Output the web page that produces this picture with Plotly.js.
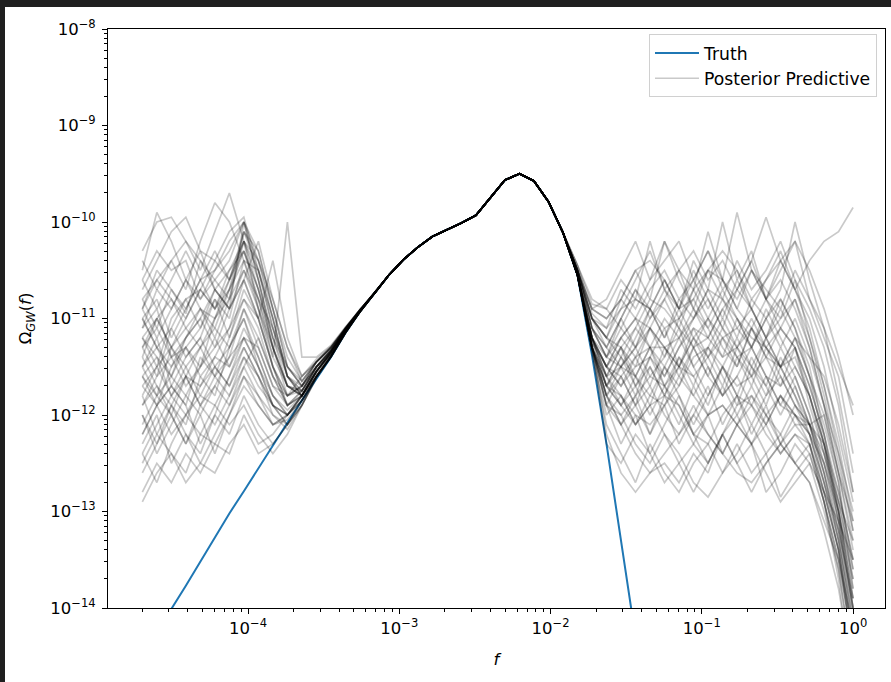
<!DOCTYPE html>
<html><head><meta charset="utf-8">
<script src="https://cdn.plot.ly/plotly-3.0.1.min.js"></script>
<style>
html,body{margin:0;padding:0;background:#1f1f1f;width:891px;height:682px;overflow:hidden}
#chart{position:absolute;left:5px;top:7px;width:886px;height:675px;background:#fff}
</style>
</head><body><div id="chart"></div>
<script>
// Frequency grid (log-spaced, 2e-5 .. 1)
const freq = [2.000e-5,2.494e-5,3.110e-5,3.878e-5,4.836e-5,6.031e-5,7.521e-5,9.378e-5,1.170e-4,1.459e-4,
  1.820e-4,2.269e-4,2.830e-4,3.529e-4,4.400e-4,5.488e-4,6.843e-4,8.534e-4,1.065e-3,1.328e-3,
  1.656e-3,2.065e-3,2.575e-3,3.211e-3,4.004e-3,4.993e-3,6.227e-3,7.765e-3,9.686e-3,1.208e-2,
  1.506e-2,1.878e-2,2.342e-2,2.921e-2,3.643e-2,4.542e-2,5.665e-2,7.064e-2,8.809e-2,1.099e-1,
  1.371e-1,1.709e-1,2.131e-1,2.658e-1,3.314e-1,4.133e-1,5.154e-1,6.427e-1,8.015e-1,1.000];

// Truth, log10(Omega) on the first 36 grid points
const truthLog = [-14.50,-14.25,-14.01,-13.77,-13.52,-13.27,-13.02,-12.79,-12.55,-12.31,
  -12.08,-11.85,-11.62,-11.40,-11.15,-10.93,-10.74,-10.55,-10.39,-10.26,
  -10.15,-10.08,-10.01,-9.93,-9.75,-9.565,-9.50,-9.575,-9.79,-10.11,
  -10.55,-11.38,-12.30,-13.30,-14.30,-15.30];

// Posterior predictive: shared middle section (grid points 16..29), log10
const ppMidLog = [-10.74,-10.55,-10.39,-10.26,-10.15,-10.08,-10.01,-9.93,-9.75,-9.565,
  -9.50,-9.575,-9.79,-10.11];

// Posterior predictive: low-frequency part (grid points 0..15), log10
const ppLeftLog = [
 [-11.0,-10.8,-11.2,-10.9,-10.6,-10.5,-10.3,-10.0,-10.6,-11.2,-11.7,-11.8,-11.55,-11.35,-11.12,-10.92],
 [-11.5,-11.3,-11.6,-11.2,-11.0,-11.3,-10.9,-10.6,-11.0,-11.5,-11.9,-11.75,-11.5,-11.38,-11.14,-10.93],
 [-10.6,-10.3,-10.5,-10.4,-10.8,-10.5,-10.2,-10.0,-10.4,-10.9,-11.5,-11.7,-11.45,-11.30,-11.10,-10.91],
 [-12.1,-11.8,-12.0,-11.6,-11.7,-11.4,-11.5,-11.1,-11.4,-11.8,-12.0,-11.85,-11.6,-11.40,-11.15,-10.93],
 [-10.3,-10.0,-9.95,-10.2,-10.5,-10.1,-9.7,-10.2,-10.7,-11.3,-11.8,-11.7,-11.5,-11.33,-11.11,-10.92],
 [-12.9,-12.6,-12.4,-12.6,-12.2,-12.3,-12.0,-11.7,-11.9,-12.1,-12.0,-11.8,-11.6,-11.38,-11.14,-10.93],
 [-11.3,-11.6,-11.1,-11.4,-11.2,-10.8,-11.0,-10.4,-10.5,-11.0,-11.6,-11.8,-11.55,-11.35,-11.12,-10.92],
 [-10.8,-11.1,-10.7,-10.95,-10.4,-10.6,-10.8,-10.1,-10.3,-10.9,-11.4,-11.65,-11.45,-11.30,-11.10,-10.91],
 [-11.8,-12.2,-11.9,-12.1,-11.6,-11.8,-11.3,-11.0,-11.5,-11.9,-12.1,-11.9,-11.6,-11.40,-11.15,-10.93],
 [-12.3,-12.0,-12.5,-12.2,-12.4,-12.0,-12.2,-11.8,-12.1,-12.3,-12.1,-11.85,-11.6,-11.38,-11.14,-10.93],
 [-11.1,-10.7,-10.9,-10.6,-10.9,-11.0,-10.6,-10.3,-10.8,-11.4,-11.7,-11.75,-11.5,-11.33,-11.11,-10.92],
 [-11.6,-11.4,-11.8,-11.5,-11.3,-11.6,-11.4,-10.9,-11.2,-11.6,-11.8,-11.7,-11.5,-11.35,-11.12,-10.92],
 [-10.5,-9.9,-10.2,-10.6,-10.3,-10.7,-10.9,-10.5,-10.8,-11.1,-11.5,-11.7,-11.45,-11.30,-11.10,-10.91],
 [-12.6,-12.3,-12.0,-12.3,-11.9,-12.1,-11.8,-11.4,-11.6,-12.0,-12.1,-11.85,-11.6,-11.40,-11.15,-10.93],
 [-11.4,-11.0,-11.3,-11.0,-10.7,-10.9,-10.5,-10.2,-10.9,-11.5,-11.9,-11.8,-11.55,-11.35,-11.12,-10.92],
 [-11.9,-11.6,-11.4,-11.7,-11.5,-11.2,-11.5,-11.2,-11.3,-11.7,-11.9,-11.75,-11.55,-11.37,-11.13,-10.93],
 [-10.9,-10.6,-10.8,-11.0,-10.7,-10.4,-10.1,-9.95,-10.5,-11.0,-11.6,-11.8,-11.5,-11.33,-11.11,-10.92],
 [-12.0,-12.4,-12.1,-11.8,-12.0,-11.7,-11.9,-11.5,-11.8,-12.0,-12.15,-11.9,-11.6,-11.40,-11.15,-10.93],
 [-11.2,-11.5,-11.0,-10.8,-11.1,-10.7,-10.9,-10.6,-10.2,-10.8,-11.3,-11.65,-11.45,-11.30,-11.10,-10.91],
 [-10.7,-10.4,-10.1,-9.95,-10.3,-10.4,-10.6,-10.2,-10.6,-11.2,-11.6,-11.75,-11.5,-11.34,-11.12,-10.92],
 [-11.7,-11.9,-11.5,-11.3,-11.6,-11.4,-11.1,-10.8,-11.1,-11.6,-11.9,-11.8,-11.55,-11.36,-11.13,-10.93],
 [-12.4,-12.7,-12.3,-12.0,-12.2,-11.9,-12.1,-11.9,-12.2,-12.4,-12.2,-11.9,-11.62,-11.40,-11.15,-10.93],
 [-11.0,-11.3,-11.5,-11.2,-10.9,-11.1,-10.7,-10.3,-10.7,-11.3,-11.7,-11.8,-11.55,-11.35,-11.12,-10.92],
 [-10.4,-10.7,-10.4,-10.7,-10.2,-9.8,-10.0,-10.4,-10.9,-11.4,-10.0,-11.4,-11.4,-11.28,-11.09,-10.91],
 [-11.5,-11.2,-11.7,-11.9,-11.4,-11.6,-11.2,-10.7,-11.0,-11.5,-11.8,-11.7,-11.5,-11.34,-11.12,-10.92],
 [-12.2,-11.9,-11.7,-11.9,-12.3,-12.0,-11.6,-11.3,-11.6,-11.9,-12.0,-11.85,-11.6,-11.39,-11.14,-10.93],
 [-10.9,-11.2,-10.9,-10.6,-10.8,-10.6,-10.4,-10.0,-10.3,-10.9,-11.5,-11.7,-11.45,-11.31,-11.10,-10.91],
 [-11.3,-11.0,-11.3,-11.5,-11.8,-11.5,-11.7,-11.4,-11.7,-11.9,-12.0,-11.8,-11.58,-11.38,-11.14,-10.93],
 [-12.8,-12.5,-12.7,-12.4,-12.6,-12.3,-12.4,-12.0,-12.3,-12.2,-12.0,-11.8,-11.6,-11.40,-11.15,-10.93],
 [-11.6,-11.8,-11.3,-11.1,-10.9,-11.2,-10.8,-10.5,-10.9,-11.3,-11.7,-11.8,-11.55,-11.35,-11.12,-10.92],
 [-11.1,-10.9,-11.4,-11.3,-11.1,-10.8,-11.2,-10.8,-11.0,-10.4,-11.2,-11.6,-11.42,-11.29,-11.09,-10.91],
 [-11.9,-11.7,-12.0,-12.3,-12.0,-12.4,-12.0,-11.6,-11.9,-12.1,-12.05,-11.85,-11.6,-11.39,-11.14,-10.93],
 [-10.6,-10.9,-10.6,-10.3,-10.6,-10.9,-10.7,-10.1,-10.4,-11.0,-11.6,-11.75,-11.5,-11.33,-11.11,-10.92],
 [-11.4,-11.7,-11.9,-11.6,-11.3,-11.1,-11.3,-11.0,-11.4,-11.8,-12.0,-11.8,-11.55,-11.36,-11.13,-10.93],
 [-12.5,-12.2,-12.4,-12.7,-12.5,-12.6,-12.3,-12.1,-12.4,-12.3,-12.1,-11.9,-11.62,-11.40,-11.15,-10.93],
 [-11.2,-11.4,-11.6,-11.3,-11.5,-11.0,-10.8,-10.2,-10.5,-11.1,-11.6,-11.8,-11.55,-11.35,-11.12,-10.92],
 [-11.6,-11.9,-11.7,-11.4,-11.2,-11.5,-11.3,-10.9,-11.3,-11.7,-11.8,-11.6,-11.45,-11.32,-11.10,-10.92],
 [-12.2,-11.9,-12.2,-12.0,-11.8,-11.9,-11.6,-11.2,-11.5,-11.8,-11.95,-11.8,-11.55,-11.36,-11.13,-10.93],
 [-10.9,-10.5,-10.7,-10.9,-10.6,-10.3,-10.6,-10.1,-10.5,-11.1,-11.6,-11.7,-11.5,-11.33,-11.11,-10.92],
 [-11.8,-11.5,-11.3,-11.6,-11.9,-11.7,-11.4,-11.2,-11.5,-11.9,-12.0,-11.85,-11.6,-11.39,-11.15,-10.93],
 [-11.3,-11.1,-11.4,-11.2,-11.0,-10.7,-10.9,-10.0,-10.6,-11.3,-11.7,-11.8,-11.55,-11.35,-11.12,-10.92],
 [-12.0,-12.3,-11.9,-12.2,-12.5,-12.2,-11.9,-11.6,-11.8,-12.1,-12.0,-11.8,-11.6,-11.40,-11.15,-10.93],
 [-10.8,-10.6,-10.4,-10.2,-10.4,-10.7,-10.5,-10.3,-10.7,-11.2,-11.5,-11.65,-11.45,-11.30,-11.10,-10.91],
 [-11.5,-11.8,-11.6,-11.8,-11.5,-11.3,-11.1,-10.6,-11.0,-11.5,-11.8,-11.75,-11.52,-11.34,-11.12,-10.92],
 [-12.4,-12.1,-11.8,-11.6,-11.9,-11.6,-11.8,-11.5,-11.2,-11.6,-11.9,-11.8,-11.55,-11.37,-11.13,-10.93],
 [-11.0,-11.3,-11.1,-10.8,-10.7,-10.9,-10.6,-10.2,-10.4,-10.8,-11.3,-11.6,-11.45,-11.30,-11.10,-10.91],
 [-11.7,-11.5,-11.8,-12.0,-11.7,-11.5,-11.7,-11.3,-11.6,-11.9,-12.1,-11.9,-11.6,-11.40,-11.15,-10.93],
 [-11.2,-11.0,-10.8,-11.1,-11.3,-11.0,-10.7,-10.4,-10.8,-11.3,-11.7,-11.75,-11.5,-11.33,-11.11,-10.92]
];

// Posterior predictive: high-frequency part (grid points 30..49), log10
const ppRightLog = [
 [-10.55,-11.2,-11.6,-11.3,-11.5,-11.1,-11.4,-11.0,-11.3,-11.6,-11.2,-11.5,-11.1,-11.4,-11.7,-11.3,-11.9,-12.4,-12.9,-13.6],
 [-10.50,-11.0,-11.3,-11.0,-10.7,-10.9,-10.6,-10.9,-10.5,-10.8,-11.1,-10.7,-10.4,-10.8,-11.0,-10.6,-11.2,-11.8,-12.5,-13.2],
 [-10.55,-11.3,-11.9,-12.1,-11.8,-12.2,-11.9,-12.3,-12.0,-11.7,-12.1,-11.8,-12.2,-11.9,-12.3,-12.0,-12.2,-12.8,-13.4,-14.3],
 [-10.50,-10.9,-10.8,-10.5,-10.2,-10.6,-10.4,-10.2,-10.6,-10.3,-10.7,-10.5,-10.9,-10.6,-10.3,-10.7,-10.4,-10.2,-10.1,-9.85],
 [-10.55,-11.3,-11.8,-11.6,-11.9,-11.5,-11.8,-11.4,-11.7,-11.3,-11.6,-11.9,-11.5,-11.8,-11.4,-11.7,-12.1,-12.6,-13.3,-14.1],
 [-10.55,-11.25,-12.2,-12.6,-12.8,-12.6,-12.5,-12.7,-12.4,-12.6,-12.2,-12.5,-12.3,-12.6,-12.9,-12.7,-12.5,-12.8,-13.1,-13.5],
 [-10.50,-11.1,-11.4,-11.1,-11.3,-10.9,-11.2,-10.8,-11.0,-10.7,-11.0,-10.6,-10.9,-11.2,-10.8,-11.1,-11.5,-12.2,-13.0,-13.9],
 [-10.55,-11.3,-11.7,-11.4,-11.6,-11.9,-11.5,-11.7,-11.3,-11.6,-11.8,-11.4,-11.7,-11.3,-11.6,-11.9,-12.1,-12.0,-12.7,-13.8],
 [-10.45,-10.85,-10.9,-10.6,-10.8,-10.2,-10.7,-10.9,-10.4,-10.7,-10.0,-10.6,-10.3,-10.8,-10.5,-10.2,-10.8,-11.2,-11.6,-12.4],
 [-10.55,-11.35,-12.0,-11.8,-12.1,-11.9,-12.2,-12.5,-12.3,-12.0,-12.4,-12.1,-12.3,-12.8,-12.6,-12.3,-12.5,-13.0,-13.6,-14.6],
 [-10.55,-11.2,-11.5,-11.2,-11.0,-11.3,-11.0,-11.2,-10.9,-11.1,-11.4,-11.0,-11.3,-10.9,-11.2,-11.5,-11.8,-12.3,-12.8,-13.5],
 [-10.55,-11.3,-11.8,-11.5,-11.3,-11.6,-11.4,-11.1,-11.5,-11.8,-11.5,-11.2,-11.5,-11.7,-11.3,-11.6,-12.0,-12.5,-13.1,-14.0],
 [-10.50,-11.0,-11.2,-10.8,-11.0,-10.7,-10.5,-10.8,-10.6,-10.9,-10.6,-9.9,-10.5,-10.8,-10.4,-10.7,-11.0,-11.5,-12.2,-12.9],
 [-10.55,-11.3,-11.9,-12.3,-12.0,-12.4,-12.1,-11.8,-12.2,-12.5,-12.2,-12.0,-12.3,-12.1,-11.8,-12.1,-12.1,-12.6,-13.2,-13.9],
 [-10.55,-11.2,-11.6,-11.3,-11.7,-11.4,-11.1,-11.5,-11.2,-11.4,-11.1,-11.4,-11.6,-11.2,-11.5,-11.2,-11.6,-12.1,-12.7,-13.6],
 [-10.50,-10.9,-11.0,-10.8,-10.5,-10.8,-10.2,-10.6,-10.9,-10.5,-10.8,-10.4,-10.7,-10.5,-10.2,-10.6,-10.9,-11.3,-11.9,-12.8],
 [-10.55,-11.35,-12.1,-12.4,-12.7,-12.3,-12.6,-12.8,-12.5,-12.3,-12.6,-12.4,-12.1,-12.4,-12.2,-12.5,-12.3,-12.9,-13.7,-14.8],
 [-10.55,-11.2,-11.7,-11.5,-11.8,-11.4,-11.7,-11.4,-11.6,-11.9,-11.5,-11.8,-11.4,-11.7,-12.0,-11.7,-12.1,-12.5,-13.2,-14.2],
 [-10.50,-11.1,-11.4,-11.0,-10.7,-11.0,-10.8,-11.1,-10.7,-10.1,-10.6,-10.9,-10.5,-10.8,-11.1,-10.8,-11.3,-11.9,-12.6,-13.4],
 [-10.55,-11.3,-11.7,-11.9,-11.6,-11.3,-11.7,-11.5,-11.8,-11.5,-11.8,-11.6,-11.9,-11.6,-11.9,-12.0,-12.1,-12.3,-12.9,-13.3],
 [-10.50,-11.0,-11.2,-10.9,-10.6,-10.3,-10.7,-10.5,-10.9,-11.2,-10.9,-11.2,-10.8,-11.0,-10.7,-10.0,-10.6,-11.1,-11.8,-12.6],
 [-10.55,-11.3,-11.8,-12.0,-12.3,-12.5,-12.2,-12.4,-12.7,-12.85,-12.6,-12.3,-12.6,-12.4,-12.85,-12.6,-12.4,-12.9,-13.5,-14.4],
 [-10.55,-11.2,-11.5,-11.7,-11.4,-11.7,-11.3,-11.5,-11.1,-11.4,-11.7,-11.3,-11.6,-11.9,-11.5,-11.8,-12.1,-12.7,-13.4,-14.5],
 [-10.50,-11.1,-11.3,-11.5,-11.2,-10.9,-11.2,-10.9,-11.2,-11.0,-10.7,-11.0,-11.3,-11.0,-11.3,-11.0,-11.4,-11.6,-12.1,-12.8],
 [-10.55,-11.3,-11.9,-11.6,-11.9,-12.2,-11.8,-12.1,-11.7,-12.0,-11.7,-12.0,-11.7,-12.0,-12.2,-11.9,-12.1,-12.4,-13.0,-13.7],
 [-10.45,-10.95,-11.1,-10.7,-10.9,-10.6,-10.2,-10.5,-10.3,-10.6,-10.4,-10.7,-10.4,-9.95,-10.4,-10.7,-11.1,-11.7,-12.3,-13.1],
 [-10.55,-11.3,-11.6,-11.8,-12.1,-11.8,-11.5,-11.8,-12.1,-11.8,-11.5,-11.8,-12.1,-11.8,-11.6,-11.9,-12.2,-12.7,-13.2,-14.0],
 [-10.55,-11.2,-11.5,-11.2,-11.4,-11.1,-11.3,-11.6,-11.3,-11.0,-11.3,-11.5,-11.1,-11.4,-11.1,-11.3,-11.7,-12.2,-12.9,-13.7],
 [-10.55,-11.3,-12.3,-12.5,-12.2,-12.4,-12.7,-12.5,-12.8,-12.5,-12.2,-12.5,-12.8,-12.5,-12.3,-12.5,-12.7,-13.1,-13.5,-14.2],
 [-10.50,-11.1,-11.3,-11.0,-11.3,-11.0,-10.7,-11.0,-10.8,-11.1,-10.8,-11.1,-10.9,-11.2,-10.9,-11.2,-11.4,-11.9,-12.4,-13.0],
 [-10.55,-11.2,-11.7,-11.4,-11.7,-11.5,-11.8,-11.5,-11.2,-11.5,-11.8,-11.6,-11.3,-11.6,-11.9,-11.6,-12.0,-12.6,-13.3,-14.3],
 [-10.50,-11.0,-11.2,-11.4,-11.1,-11.3,-11.6,-11.3,-11.0,-10.8,-11.1,-11.3,-11.0,-11.3,-11.5,-11.2,-11.6,-12.0,-12.6,-13.1],
 [-10.55,-11.3,-11.6,-11.9,-11.7,-12.0,-11.7,-11.9,-12.2,-12.0,-11.9,-12.1,-11.8,-12.1,-11.8,-12.0,-12.2,-12.5,-13.0,-14.0],
 [-10.45,-10.8,-10.9,-11.1,-10.8,-10.9,-10.6,-10.9,-10.6,-10.3,-10.6,-10.8,-10.5,-10.7,-10.9,-10.5,-10.8,-11.1,-11.5,-11.9],
 [-10.55,-11.25,-11.8,-12.1,-11.9,-11.7,-12.0,-12.2,-11.9,-12.2,-12.4,-12.1,-11.9,-12.1,-12.4,-12.2,-12.3,-12.8,-13.4,-14.4],
 [-10.55,-11.2,-11.5,-11.3,-11.6,-11.3,-11.5,-11.2,-11.5,-11.3,-11.0,-11.3,-11.5,-11.2,-11.5,-11.3,-11.8,-12.3,-13.0,-13.8],
 [-10.55,-11.25,-11.5,-11.6,-11.4,-11.3,-11.3,-11.5,-11.6,-11.4,-11.2,-11.1,-11.3,-11.6,-11.7,-11.5,-11.8,-12.3,-13.0,-13.9],
 [-10.50,-11.0,-11.1,-10.9,-10.8,-10.9,-11.1,-11.0,-10.7,-10.5,-10.6,-10.9,-11.1,-10.8,-10.6,-10.9,-11.3,-11.9,-12.6,-13.3],
 [-10.55,-11.3,-11.7,-11.9,-12.1,-11.9,-11.8,-11.9,-12.2,-12.3,-12.0,-11.8,-11.9,-12.2,-12.4,-12.2,-12.4,-12.9,-13.6,-14.6],
 [-10.55,-11.2,-11.4,-11.5,-11.3,-11.1,-10.8,-10.5,-10.7,-11.0,-11.2,-11.4,-11.3,-11.0,-10.8,-11.1,-11.6,-12.3,-13.1,-14.0],
 [-10.50,-10.9,-11.0,-10.8,-10.5,-10.4,-10.6,-10.9,-10.8,-10.5,-10.3,-10.5,-10.8,-10.6,-10.4,-10.2,-10.5,-10.9,-11.4,-12.0],
 [-10.55,-11.3,-11.9,-12.0,-11.8,-11.6,-11.7,-12.0,-12.3,-12.5,-12.2,-11.9,-11.8,-12.0,-12.3,-12.1,-12.3,-12.9,-13.5,-14.4],
 [-10.55,-11.2,-11.6,-11.5,-11.6,-11.8,-11.9,-11.7,-11.4,-11.3,-11.5,-11.7,-11.6,-11.4,-11.5,-11.8,-12.2,-12.7,-13.3,-14.2],
 [-10.50,-11.1,-11.4,-11.2,-11.0,-11.1,-11.3,-11.2,-11.0,-10.7,-10.8,-11.0,-11.2,-11.3,-11.1,-11.3,-11.7,-12.2,-12.8,-13.5],
 [-10.55,-11.3,-11.8,-12.1,-12.4,-12.6,-12.4,-12.2,-12.0,-12.2,-12.4,-12.6,-12.7,-12.5,-12.3,-12.5,-12.7,-13.2,-13.8,-14.7],
 [-10.55,-11.2,-11.5,-11.7,-11.5,-11.4,-11.6,-11.3,-11.1,-11.2,-11.4,-11.3,-11.1,-11.3,-11.5,-11.4,-11.8,-12.4,-13.1,-14.1],
 [-10.50,-11.0,-11.2,-11.3,-11.1,-10.8,-10.9,-11.1,-11.3,-11.2,-10.9,-10.7,-10.9,-11.2,-11.0,-10.8,-11.2,-11.7,-12.4,-13.2],
 [-10.55,-11.3,-11.7,-11.8,-12.0,-12.1,-11.9,-11.6,-11.8,-12.0,-11.9,-12.1,-12.3,-12.0,-11.8,-12.0,-12.3,-12.8,-13.4,-14.3]
];

const xTickVals = [1e-4, 1e-3, 1e-2, 1e-1, 1];
const xTickText = ['10<sup>−4</sup>','10<sup>−3</sup>','10<sup>−2</sup>','10<sup>−1</sup>','10<sup>0</sup>'];
const yTickVals = [1e-14,1e-13,1e-12,1e-11,1e-10,1e-9,1e-8];
const yTickText = ['10<sup>−14</sup>','10<sup>−13</sup>','10<sup>−12</sup>','10<sup>−11</sup>','10<sup>−10</sup>','10<sup>−9</sup>','10<sup>−8</sup>'];

const pow10 = v => Math.pow(10, v);
function minorTicks(p0, p1) {
  const out = [];
  for (let p = p0; p <= p1; p++) for (let m = 2; m <= 9; m++) out.push(m * Math.pow(10, p));
  return out;
}

const traces = [];
traces.push({
  x: freq.slice(0, truthLog.length), y: truthLog.map(pow10),
  type: 'scatter', mode: 'lines', name: 'Truth',
  line: {color: '#1f77b4', width: 2}, legendrank: 1
});
ppLeftLog.forEach((left, k) => {
  const yl = left.concat(ppMidLog, ppRightLog[k]);
  traces.push({
    x: freq, y: yl.map(pow10), type: 'scatter', mode: 'lines',
    name: 'Posterior Predictive', showlegend: k === 0, legendrank: 2,
    line: {color: 'rgba(0,0,0,0.21)', width: 1.7}, hoverinfo: 'skip'
  });
});

const font = {family: 'DejaVu Sans, sans-serif', size: 16.5, color: '#000'};
const axisCommon = {
  type: 'log', showgrid: false, zeroline: false, showline: true, mirror: true,
  linecolor: '#000', linewidth: 1, ticks: 'outside', ticklen: 5, tickwidth: 1, tickcolor: '#000',
  tickfont: font, tickmode: 'array', automargin: false
};

const layout = {
  width: 886, height: 675,
  margin: {l: 103, r: 6, t: 22, b: 74},
  paper_bgcolor: '#ffffff', plot_bgcolor: '#ffffff',
  font: font, showlegend: true,
  xaxis: Object.assign({}, axisCommon, {
    range: [-4.926, 0.211], tickvals: xTickVals, ticktext: xTickText,
    minor: {tickmode: 'array', tickvals: minorTicks(-5, 0), ticks: 'outside', ticklen: 3, tickwidth: 1, tickcolor: '#000', showgrid: false},
    title: {text: '<i>f</i>', font: font, standoff: 16}
  }),
  yaxis: Object.assign({}, axisCommon, {
    range: [-14, -8], tickvals: yTickVals, ticktext: yTickText, ticklabelstandoff: 3,
    minor: {tickmode: 'array', tickvals: minorTicks(-14, -9), ticks: 'outside', ticklen: 3, tickwidth: 1, tickcolor: '#000', showgrid: false},
    title: {text: 'Ω<sub><i>GW</i></sub>(<i>f</i>)', font: font, standoff: 14}
  }),
  legend: {
    x: 0.9897, xanchor: 'right', y: 0.991, yanchor: 'top',
    bgcolor: 'rgba(255,255,255,0.85)', bordercolor: '#d0d0d0', borderwidth: 1,
    font: {family: 'DejaVu Sans, sans-serif', size: 17.2, color: '#000'},
    itemwidth: 44, traceorder: 'normal'
  }
};

Plotly.newPlot('chart', traces, layout, {staticPlot: true, displayModeBar: false});
</script>
</body></html>
